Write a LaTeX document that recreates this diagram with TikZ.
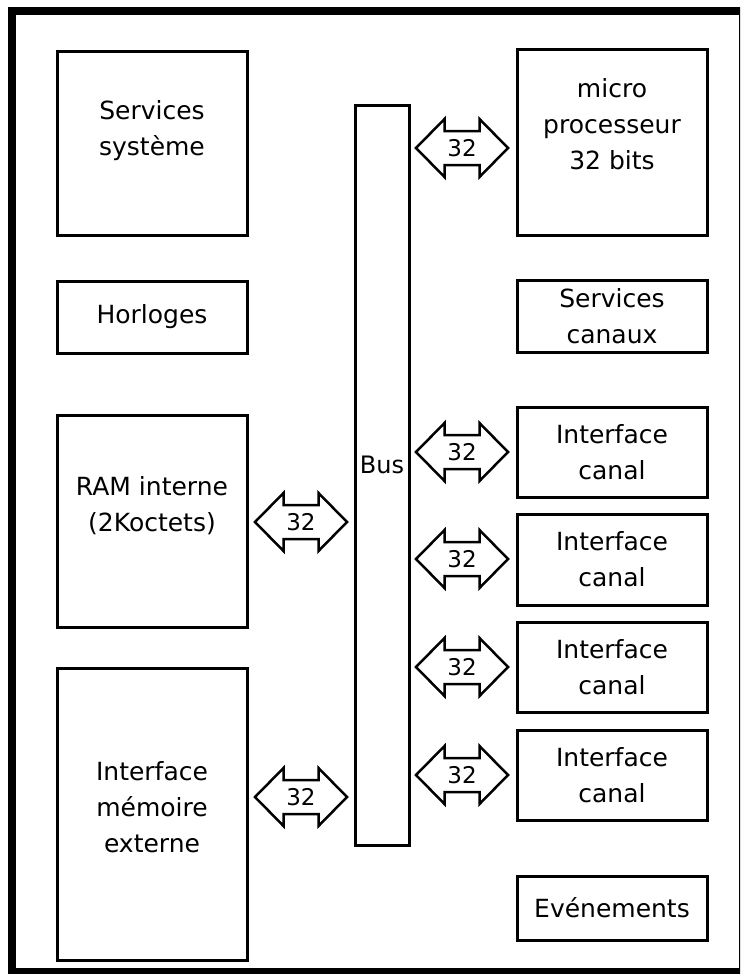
\documentclass[tikz,border=0pt]{standalone}
\usepackage{fontspec}
\setmainfont{DejaVu Sans}
\begin{document}
\begin{tikzpicture}[x=1pt,y=-1pt,
  box/.style={draw, line width=3pt, minimum width=190pt, align=center,
    inner sep=0pt, font=\fontsize{25}{36}\selectfont},
  bus arrow/.pic={
    \draw[line width=2.5pt, line join=miter]
      (-46,0) -- (-17.5,-29) -- (-17.5,-17) -- (17.5,-17) -- (17.5,-29)
      -- (46,0) -- (17.5,29) -- (17.5,17) -- (-17.5,17) -- (-17.5,29) -- cycle;
    \node[font=\fontsize{23}{23}\selectfont, inner sep=0pt] (-lbl) at (0,0) {32};
  }]
\useasboundingbox (0,0) rectangle (740,974);

% outer frame
\begin{scope}
  \clip (0,0) rectangle (740,974);
  \draw[line width=8pt] (12,11.5) rectangle (743,971.5);
\end{scope}

% left column (a larger text depth lifts the label inside tall boxes)
\node[box, minimum height=183pt, text depth=30pt] (svc) at (152,143.5) {Services\\système};
\node[box, minimum height=72pt]  (clk) at (152,317)   {Horloges};
\node[box, minimum height=212pt, text depth=34pt] (ram) at (152,521) {RAM interne\\(2Koctets)};
\node[box, minimum height=292pt, text depth=14pt] (mem) at (152,814) {Interface\\mémoire\\externe};

% bus
\node[box, minimum width=54pt, minimum height=740pt] (bus) at (382,475) {};
\node[font=\fontsize{24}{24}\selectfont, inner sep=0pt] (buslbl) at (382,465) {Bus};

% right column
\node[box, minimum height=185pt, text depth=36pt] (cpu) at (612,142.5) {micro\\processeur\\32 bits};
\node[box, minimum height=72pt]  (chs) at (612,316)   {Services\\canaux};
\node[box, minimum height=90pt]  (ch1) at (612,452)   {Interface\\canal};
\node[box, minimum height=91pt]  (ch2) at (612,559.5) {Interface\\canal};
\node[box, minimum height=90pt]  (ch3) at (612,667)   {Interface\\canal};
\node[box, minimum height=90pt]  (ch4) at (612,775)   {Interface\\canal};
\node[box, minimum height=64pt]  (evt) at (612,908)   {Evénements};

% 32-bit links to the bus
\pic (acpu) at (462,148) {bus arrow};
\pic (ach1) at (462,452) {bus arrow};
\pic (ach2) at (462,559) {bus arrow};
\pic (ach3) at (462,667) {bus arrow};
\pic (ach4) at (462,775) {bus arrow};
\pic (aram) at (301,522) {bus arrow};
\pic (amem) at (301,797) {bus arrow};
\end{tikzpicture}
\end{document}
